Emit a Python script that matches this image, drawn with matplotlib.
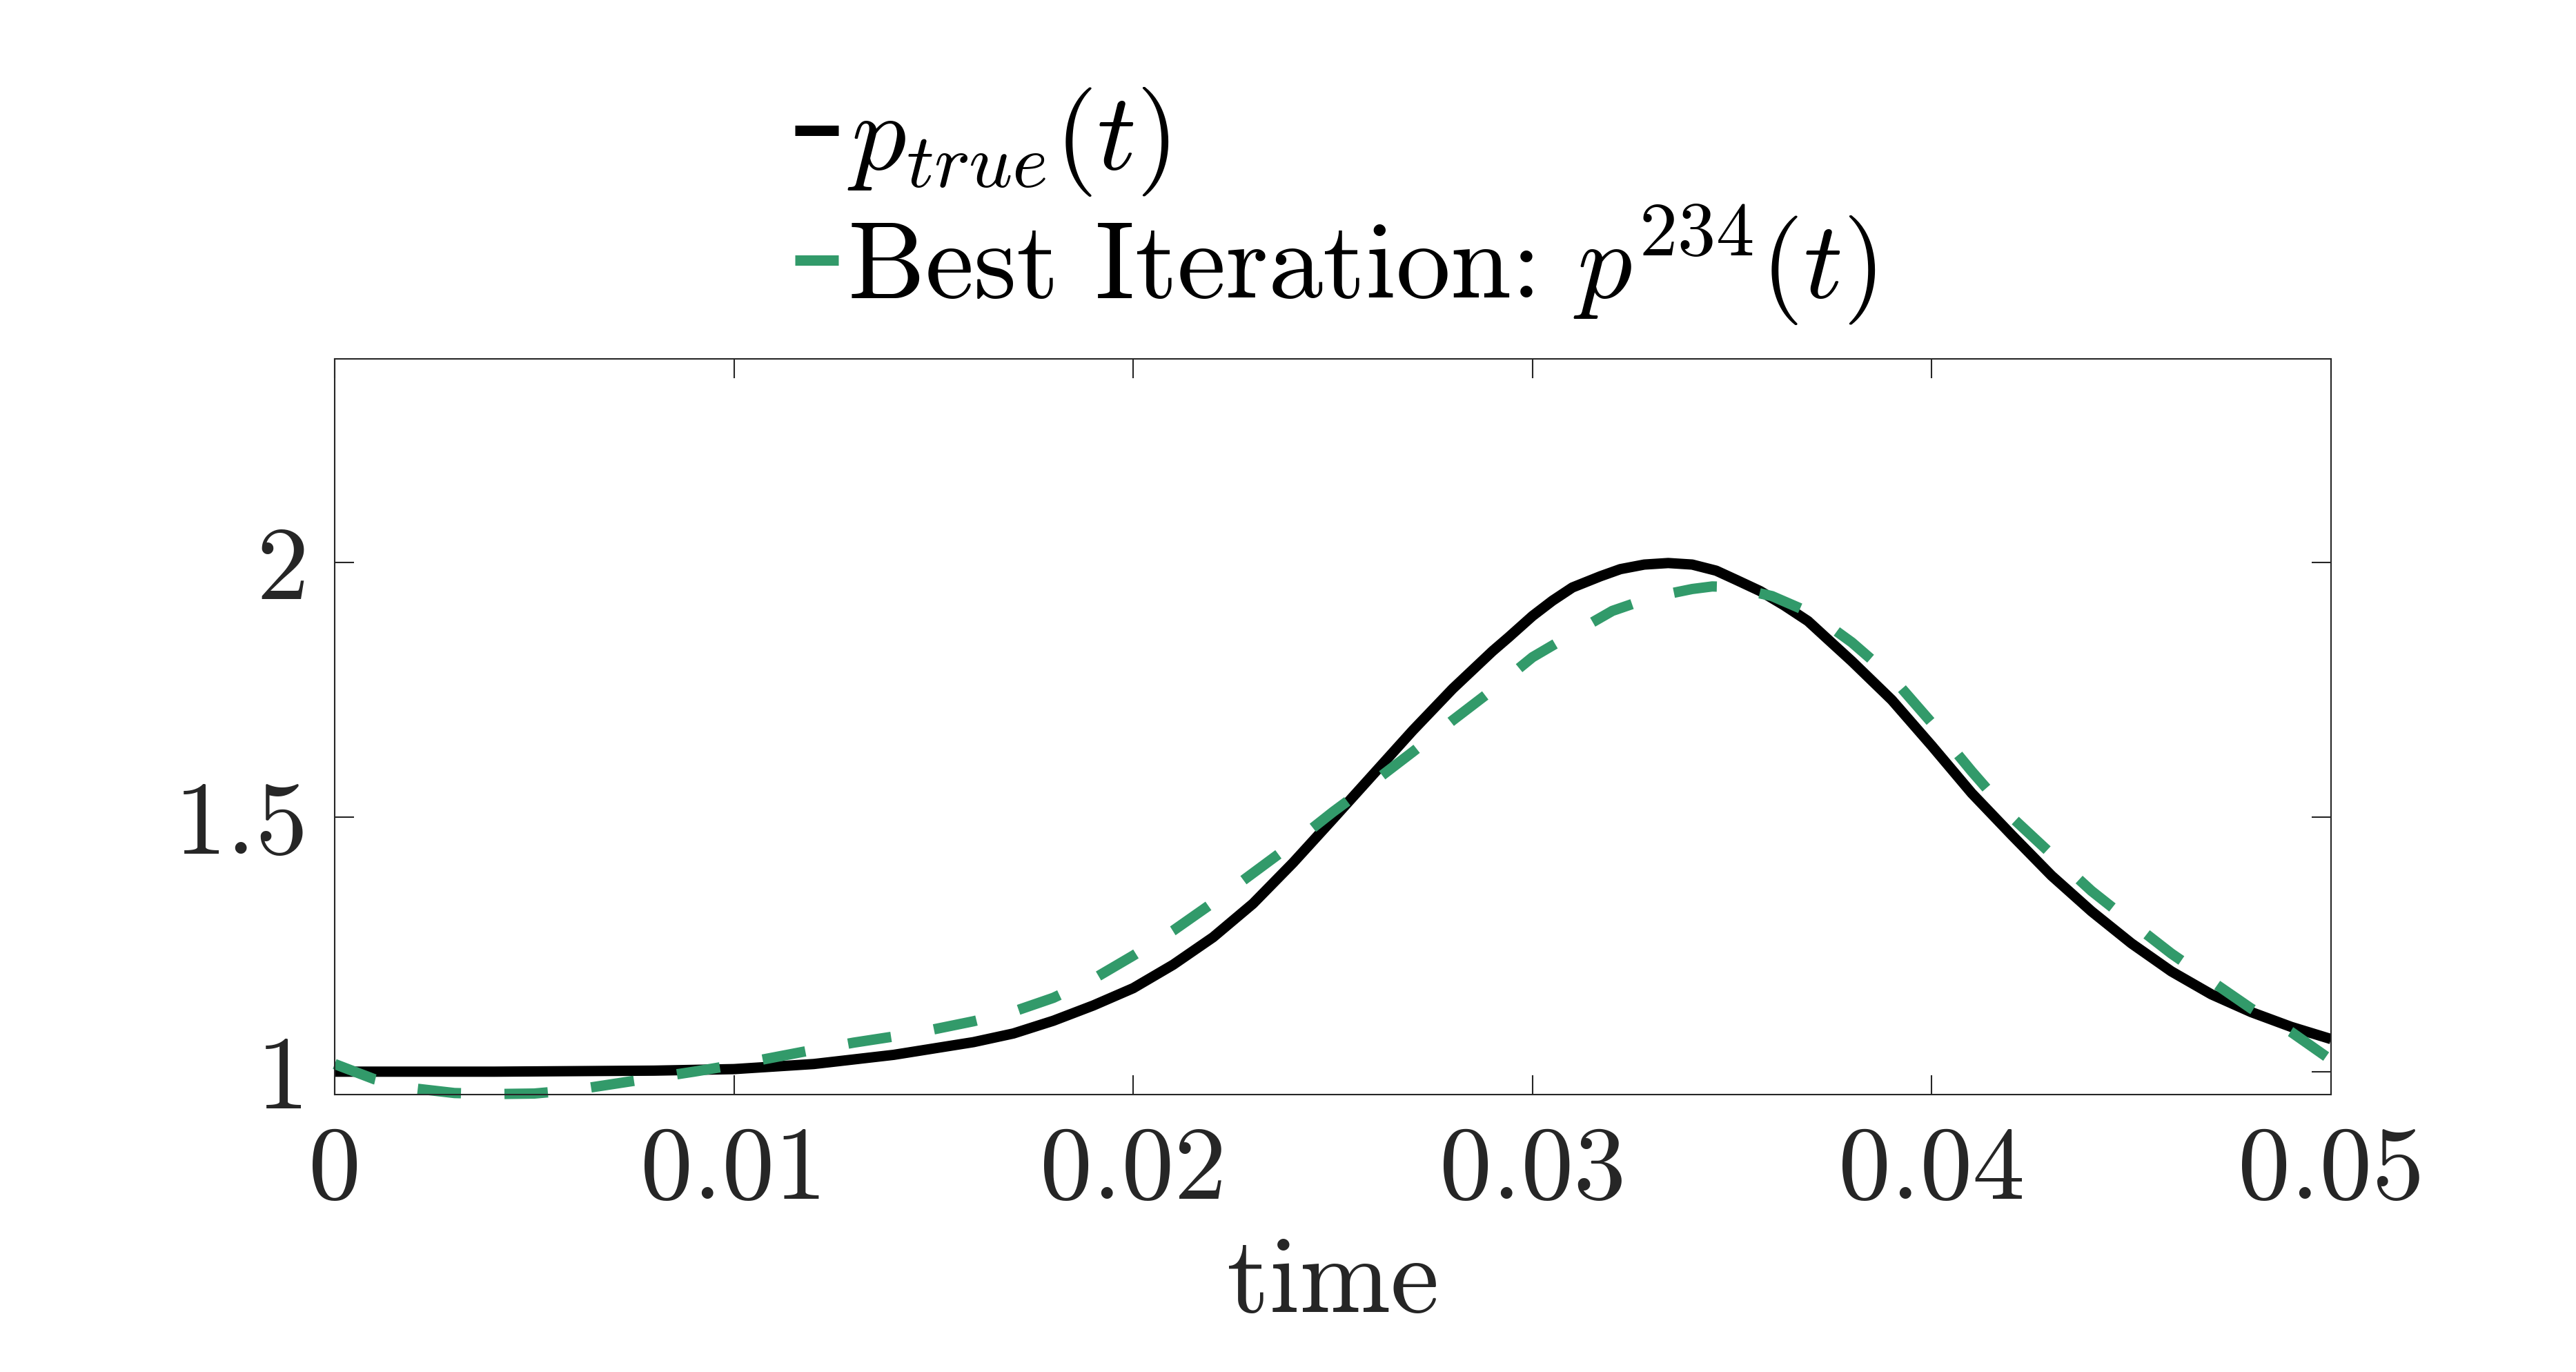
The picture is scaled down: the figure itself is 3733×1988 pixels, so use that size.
import matplotlib
matplotlib.use("Agg")
import matplotlib.pyplot as plt

plt.rcParams['font.family'] = ['cmr10', 'DejaVu Serif']
plt.rcParams['mathtext.fontset'] = 'cm'
plt.rcParams['axes.formatter.use_mathtext'] = True
plt.rcParams['axes.unicode_minus'] = False

# ---- data ----
t_true = [0.0, 0.004, 0.008, 0.010, 0.012, 0.014, 0.016, 0.017, 0.018, 0.019,
          0.020, 0.021, 0.022, 0.023, 0.024, 0.025, 0.026, 0.027, 0.028, 0.029,
          0.0294, 0.030, 0.0305, 0.031, 0.0317, 0.0322, 0.0328, 0.0334, 0.034,
          0.0346, 0.0351, 0.0357, 0.0363, 0.0369, 0.0374, 0.038, 0.039, 0.040,
          0.041, 0.042, 0.043, 0.044, 0.045, 0.046, 0.047, 0.048, 0.049, 0.050]
p_true = [1.0, 1.0, 1.002, 1.005, 1.015, 1.033, 1.058, 1.075, 1.10, 1.13,
          1.164, 1.21, 1.264, 1.33, 1.41, 1.496, 1.583, 1.67, 1.752, 1.826,
          1.853, 1.895, 1.925, 1.951, 1.973, 1.987, 1.996, 1.999, 1.996,
          1.984, 1.966, 1.944, 1.916, 1.885, 1.849, 1.806, 1.73, 1.64,
          1.547, 1.465, 1.385, 1.315, 1.252, 1.197, 1.152, 1.117, 1.088, 1.064]

t_best = [0.0, 0.001, 0.002, 0.003, 0.004, 0.005, 0.006, 0.007, 0.008, 0.009,
          0.010, 0.011, 0.012, 0.013, 0.014, 0.015, 0.016, 0.017, 0.018, 0.019,
          0.020, 0.021, 0.022, 0.023, 0.024, 0.025, 0.026, 0.027, 0.028, 0.029,
          0.030, 0.031, 0.032, 0.033, 0.034, 0.0345, 0.035, 0.036, 0.037, 0.038,
          0.039, 0.040, 0.041, 0.042, 0.043, 0.044, 0.045, 0.046, 0.047, 0.048,
          0.049, 0.050]
p_best = [1.015, 0.985, 0.967, 0.958, 0.956, 0.957, 0.964, 0.976, 0.988, 1.0,
          1.013, 1.028, 1.043, 1.057, 1.069, 1.083, 1.099, 1.118, 1.145, 1.182,
          1.228, 1.277, 1.332, 1.39, 1.448, 1.51, 1.568, 1.628, 1.69, 1.75,
          1.814, 1.86, 1.905, 1.932, 1.948, 1.953, 1.952, 1.934, 1.90, 1.843,
          1.775, 1.685, 1.59, 1.50, 1.427, 1.355, 1.293, 1.232, 1.178, 1.124,
          1.078, 1.023]

x_ticks = [0.0, 0.01, 0.02, 0.03, 0.04, 0.05]
x_tick_labels = ['0', '0.01', '0.02', '0.03', '0.04', '0.05']
y_ticks = [1.0, 1.5, 2.0]
y_tick_labels = ['1', '1.5', '2']

label_true = r'$p_{true}(t)$'
label_best = r'Best Iteration: $p^{234}(t)$'
x_label = 'time'

# ---- figure ----
W, H, DPI = 3733, 1988, 300
fig = plt.figure(figsize=(W / DPI, H / DPI), dpi=DPI)
ax = fig.add_axes([485 / W, 1 - 1586 / H, (3378 - 485) / W, (1586 - 520) / H])

green = '#329a6a'
lw = 3.6
l1, = ax.plot(t_true, p_true, color='black', lw=lw, solid_capstyle='butt',
              solid_joinstyle='round', label=label_true)
l2, = ax.plot(t_best, p_best, color=green, lw=lw, linestyle=(0, (4.2, 4.2)),
              dash_capstyle='butt', label=label_best, clip_on=False)

ax.set_xlim(0, 0.05)
ax.set_ylim(0.955, 2.4)
ax.set_xticks(x_ticks)
ax.set_xticklabels(x_tick_labels)
ax.set_yticks(y_ticks)
ax.set_yticklabels(y_tick_labels)

axcol = '#262626'
for s in ax.spines.values():
    s.set_color(axcol)
    s.set_linewidth(0.5)
ax.tick_params(axis='both', direction='in', length=6.7, width=0.5,
               top=True, right=True, colors=axcol, labelsize=36.5)
ax.tick_params(axis='x', pad=11)
ax.tick_params(axis='y', pad=9)

ax.set_xlabel(x_label, fontsize=38, color=axcol, labelpad=6)

leg = fig.legend(handles=[l1, l2], loc='lower left',
                 bbox_to_anchor=(1152 / W, 1 - 475 / H),
                 bbox_transform=fig.transFigure,
                 frameon=False, fontsize=38, handlelength=0.40,
                 handletextpad=0.08, borderpad=0, borderaxespad=0,
                 labelspacing=0.05)

fig.savefig('out.png', dpi=DPI)
